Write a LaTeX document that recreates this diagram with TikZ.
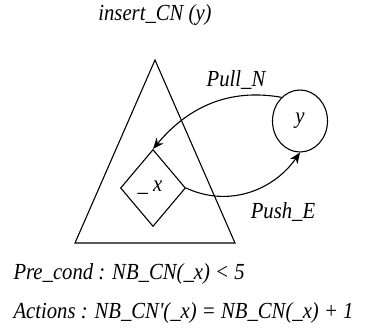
\documentclass[tikz,border=0pt]{standalone}
\usepackage{fontspec}
\setmainfont{Liberation Serif}
\newfontfamily\lblfont[FakeStretch=0.9]{Liberation Serif}
\usepackage{tikz}
\usetikzlibrary{arrows.meta}
\usetikzlibrary{positioning, shapes.geometric}

\begin{document}
\begin{tikzpicture}[x=1pt, y=-1pt, line width=1.1pt,
    lbl/.style={font=\lblfont\fontsize{23}{25}\selectfont\itshape, inner sep=0pt},
    arr/.style={-{Stealth[length=11pt, width=9pt]}}]
    \useasboundingbox (0,0) rectangle (366,327);
    \begin{scope}
    \node[lbl] (title) at (155,15) {insert\_CN (y)};
    \draw (155,60) -- (75,243) -- (235,243) -- cycle;
    \node[draw, diamond, minimum width=65pt, minimum height=77pt, inner sep=0pt] (dx) at (153,188) {};
    \node[lbl] (dxlbl) at (150,188) {\_ x};
    \node[draw, ellipse, minimum width=55pt, minimum height=62pt, inner sep=0pt, lbl] (yy) at (300,121) {y};
    \draw[arr] (yy.128) to[out=170, in=50] (dx.north);
    \draw[arr] (dx.east) to[out=-25, in=-125] (yy.south);
    \node[lbl] (pull) at (236,80) {Pull\_N};
    \node[lbl] (push) at (283,212) {Push\_E};
    \node[lbl, anchor=base west] (pre) at (13,279) {Pre\_cond : NB\_CN(\_x) < 5};
    \node[lbl, anchor=base west] (act) at (13,318) {Actions : NB\_CN'(\_x) = NB\_CN(\_x) + 1};
  \end{scope}
\end{tikzpicture}
\end{document}
